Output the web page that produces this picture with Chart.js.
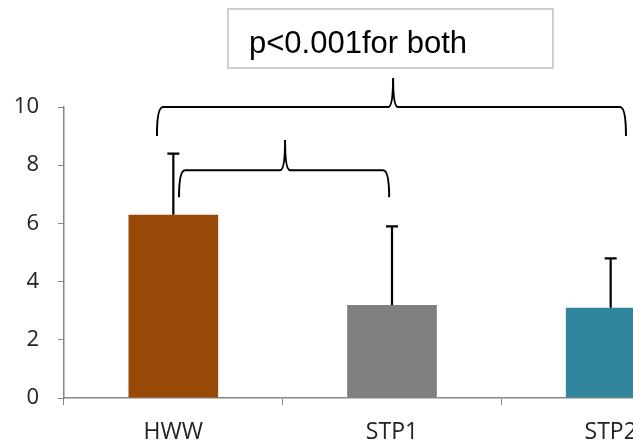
<!DOCTYPE html>
<html>
<head>
<meta charset="utf-8">
<script src="https://cdn.jsdelivr.net/npm/chart.js@4.4.1/dist/chart.umd.min.js"></script>
<style>
  html, body { margin: 0; padding: 0; background: #fff; }
  #wrap { width: 633px; height: 443px; overflow: hidden; }
</style>
</head>
<body>
<div id="wrap"><canvas id="myChart" width="724" height="443"></canvas></div>
<script>
const groups = ['HWW', 'STP1', 'STP2'];
const means = [6.3, 3.2, 3.1];
const sdUpper = [2.1, 2.7, 1.7];
const barColors = ['#984807', '#7f7f7f', '#31859c'];
const yTicks = [0, 2, 4, 6, 8, 10];

// brackets: [from group, to group, tip group, foot value, line value, tip value]
const braces = [
  [-0.075, 2.07, 1.005, 9.0, 10.0, 11.0],
  [0.026, 0.987, 0.511, 6.9, 7.83, 8.87]
];
const noteText = 'p<0.001for both';

// whisker on top of each bar (upper SD only)
const errorBars = {
  id: 'errorBars',
  afterDatasetsDraw(chart) {
    const { ctx, scales: { x, y } } = chart;
    ctx.save();
    ctx.strokeStyle = '#000';
    ctx.lineWidth = 2.2;
    means.forEach((m, i) => {
      const px = x.getPixelForValue(i);
      const y0 = y.getPixelForValue(m);
      const y1 = y.getPixelForValue(m + sdUpper[i]);
      ctx.beginPath();
      ctx.moveTo(px, y0);
      ctx.lineTo(px, y1);
      ctx.moveTo(px - 6, y1);
      ctx.lineTo(px + 6, y1);
      ctx.stroke();
    });
    ctx.restore();
  }
};

// curly braces and the note box above the bars
const braceNotes = {
  id: 'braceNotes',
  afterDraw(chart) {
    const { ctx, scales: { x, y } } = chart;
    const gx = v => x.getPixelForValue(0) + v * (x.getPixelForValue(1) - x.getPixelForValue(0));
    ctx.save();
    ctx.strokeStyle = '#000';
    ctx.lineWidth = 2;
    braces.forEach(b => {
      const x1 = gx(b[0]), x2 = gx(b[1]), xm = gx(b[2]);
      const yf = y.getPixelForValue(b[3]);
      const yl = y.getPixelForValue(b[4]);
      const yt = y.getPixelForValue(b[5]);
      const r = 6;
      ctx.beginPath();
      ctx.moveTo(x1, yf);
      ctx.quadraticCurveTo(x1, yl, x1 + r, yl);
      ctx.lineTo(xm - 5, yl);
      ctx.quadraticCurveTo(xm, yl, xm, yt);
      ctx.quadraticCurveTo(xm, yl, xm + 5, yl);
      ctx.lineTo(x2 - r, yl);
      ctx.quadraticCurveTo(x2, yl, x2, yf);
      ctx.stroke();
    });

    // note box
    const bx1 = gx(0.25), bx2 = gx(1.736);
    const by1 = y.getPixelForValue(13.37), by2 = y.getPixelForValue(11.34);
    ctx.strokeStyle = '#bfbfbf';
    ctx.lineWidth = 1.5;
    ctx.strokeRect(bx1, by1, bx2 - bx1, by2 - by1);
    ctx.fillStyle = '#000';
    ctx.font = '31px "Liberation Sans", Arial, sans-serif';
    ctx.textBaseline = 'alphabetic';
    ctx.textAlign = 'left';
    ctx.fillText(noteText, gx(0.346), y.getPixelForValue(11.86));
    ctx.restore();
  }
};

const ctx = document.getElementById('myChart');

new Chart(ctx, {
  type: 'bar',
  data: {
    labels: groups,
    datasets: [{
      data: means,
      backgroundColor: barColors,
      borderWidth: 0,
      barPercentage: 0.41,
      categoryPercentage: 1.0
    }]
  },
  options: {
    responsive: false,
    animation: false,
    layout: { padding: { top: 107, right: 4, left: 0, bottom: 0 } },
    plugins: {
      legend: { display: false },
      tooltip: { enabled: false }
    },
    scales: {
      x: {
        grid: {
          offset: true,
          drawOnChartArea: false,
          drawTicks: true,
          tickLength: 7,
          color: '#868686'
        },
        border: { color: '#868686', width: 1.5 },
        ticks: {
          color: '#222',
          padding: 14,
          font: { family: '"Open Sans", sans-serif', size: 23 }
        },
        afterFit: s => { s.height = 45; }
      },
      y: {
        min: 0,
        max: 10,
        afterBuildTicks: s => { s.ticks = yTicks.map(v => ({ value: v })); },
        grid: {
          drawOnChartArea: false,
          drawTicks: true,
          tickLength: 6,
          color: '#868686'
        },
        border: { color: '#868686', width: 1.5 },
        ticks: {
          color: '#222',
          padding: 19,
          font: { family: '"Open Sans", sans-serif', size: 22 }
        },
        afterFit: s => { s.width = 64; }
      }
    }
  },
  plugins: [errorBars, braceNotes]
});
</script>
</body>
</html>
